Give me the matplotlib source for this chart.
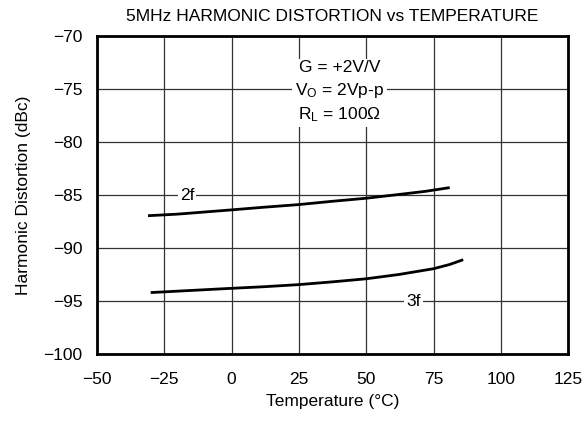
import matplotlib
matplotlib.use("Agg")
import matplotlib.pyplot as plt

# data
temp_2f = [-31, -20, -10, 0, 12, 25, 37, 50, 62, 72, 81]
hd_2f   = [-86.95, -86.8, -86.6, -86.4, -86.15, -85.9, -85.6, -85.3, -84.95, -84.65, -84.3]

temp_3f = [-30, -15, 0, 12, 25, 37, 50, 62, 75, 81, 86]
hd_3f   = [-94.2, -94.0, -93.8, -93.65, -93.45, -93.2, -92.9, -92.5, -91.95, -91.55, -91.1]

x_ticks = [-50, -25, 0, 25, 50, 75, 100, 125]
y_ticks = [-100, -95, -90, -85, -80, -75, -70]

plt.rcParams["font.family"] = ["Liberation Sans", "DejaVu Sans"]
FS = 12.5

fig = plt.figure(figsize=(5.87, 4.24), dpi=100)
ax = fig.add_axes([0.165, 0.165, 0.803, 0.75])

ax.plot(temp_2f, hd_2f, color="black", lw=2.0, zorder=3, solid_capstyle="butt")
ax.plot(temp_3f, hd_3f, color="black", lw=2.0, zorder=3, solid_capstyle="butt")

ax.set_xlim(-50, 125)
ax.set_ylim(-100, -70)
ax.set_xticks(x_ticks)
ax.set_yticks(y_ticks)
ax.set_yticklabels([f"\u2212{abs(v)}" for v in y_ticks])
ax.set_xticklabels([f"\u2212{abs(v)}" if v < 0 else str(v) for v in x_ticks])
ax.tick_params(length=0, labelsize=FS)
ax.tick_params(axis="y", pad=10.5)
ax.tick_params(axis="x", pad=13)
ax.grid(True, color="#333333", lw=0.9, zorder=1)
for s in ax.spines.values():
    s.set_linewidth(2.0)

ax.set_title("5MHz HARMONIC DISTORTION vs TEMPERATURE", fontsize=FS, pad=11)
ax.set_xlabel("Temperature (\u00b0C)", fontsize=FS, labelpad=5)
ax.set_ylabel("Harmonic Distortion (dBc)", fontsize=FS, labelpad=9)

box = dict(fc="white", ec="none", pad=1.5)
ax.text(-16.5, -85, "2f", ha="center", va="center", fontsize=FS, bbox=box, zorder=4)
ax.text(67.5, -95, "3f", ha="center", va="center", fontsize=FS, bbox=box, zorder=4)
ax.text(40, -75.3,
        "G = +2V/V\n$\\mathregular{V_O}$ = 2Vp-p\n$\\mathregular{R_L}$ = 100\u03a9",
        ha="center", va="center", fontsize=FS, linespacing=1.4,
        bbox=dict(fc="white", ec="none", pad=2), zorder=4)

fig.savefig("out.png", dpi=100)
